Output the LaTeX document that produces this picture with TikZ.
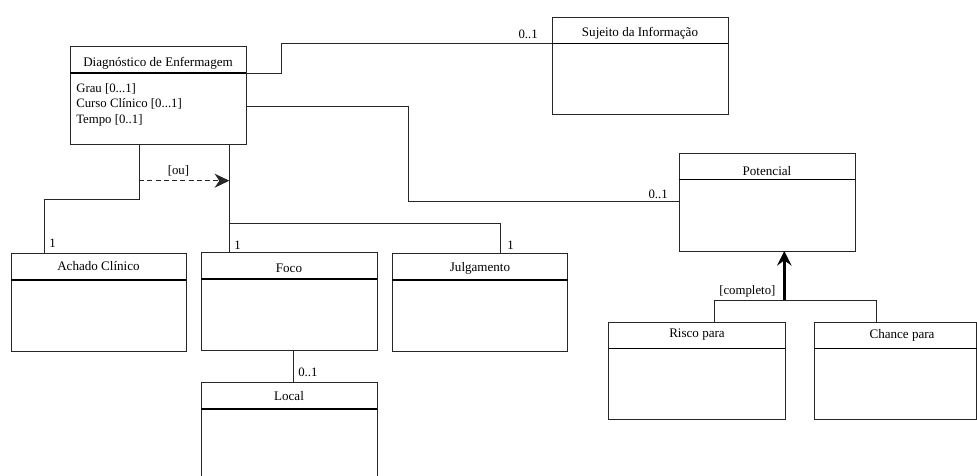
\documentclass[tikz,border=0pt]{standalone}
\usepackage{fontspec}
\setmainfont{Liberation Serif}
\usetikzlibrary{calc,arrows.meta}
\tikzset{
  cls/.style={draw=black!85, line width=0.75pt, inner sep=0pt, outer sep=0pt, anchor=north west},
  hdr/.style={draw=black, line width=0.9pt},
  conn/.style={draw=black!85, line width=0.75pt},
  lbl/.style={inner sep=0pt, font=\fontsize{9.6}{11}\selectfont},
  ttl/.style={inner sep=0pt, font=\fontsize{9.8}{11}\selectfont},
  dasharrow/.style={conn, dash pattern=on 3.8pt off 2.4pt, -{Stealth[length=11pt,width=10.5pt,inset=3.5pt]}},
  genarrow/.style={draw=black, line width=2.2pt, -{Stealth[length=11pt,width=11pt,inset=4pt]}}
}
% name, x1, y1, x2, y2, yheader, title x, title y, title
\newcommand\umlclassbox[9]{%
  \node[cls, minimum width={(#4-#2)*0.75pt}, minimum height={(#5-#3)*0.75pt}] (#1) at (#2,#3) {};
  \draw[hdr] (#2,#6) coordinate (#1-hl) -- (#4,#6) coordinate (#1-hr);
  \node[ttl] (#1-t) at (#7,#8) {#9};
}
\begin{document}
\begin{tikzpicture}[x=0.75pt,y=-0.75pt]
\useasboundingbox (0,0) rectangle (977,475);

\umlclassbox{diag}{70}{46}{246}{144}{73}{158}{63}{Diagnóstico de Enfermagem}
\umlclassbox{suj}{552}{17}{728}{114}{43.5}{640}{33.5}{Sujeito da Informação}
\umlclassbox{pot}{679}{153}{855}{251}{179.5}{767}{171}{Potencial}
\umlclassbox{ach}{11}{253.5}{186}{351}{280}{98.5}{266}{Achado Clínico}
\umlclassbox{foco}{201}{252.5}{377}{350}{279}{289}{268}{Foco}
\umlclassbox{julg}{392}{253.5}{567.5}{351}{280}{480}{268}{Julgamento}
\umlclassbox{local}{201}{382}{377}{490}{409}{289}{396.5}{Local}
\umlclassbox{risco}{608.5}{322}{785}{419.5}{348.5}{697}{335}{Risco para}
\umlclassbox{chance}{814}{322}{976.6}{419.5}{348.5}{902}{335}{Chance para}

% attributes
\node[lbl, anchor=base west] (a1) at (76,92) {Grau [0...1]};
\node[lbl, anchor=base west] (a2) at (76,107.5) {Curso Clínico [0...1]};
\node[lbl, anchor=base west] (a3) at (76,123) {Tempo [0..1]};

% Diag -- Sujeito
\draw[conn] (diag-hr) -- ++(35,0) |- (suj-hl);
\node[lbl, anchor=base east] (m1) at (538,38.5) {0..1};

% Diag -- Potencial
\draw[conn] ($(diag.north east)+(0,60)$) -- ++(162.5,0) |- ($(pot.north west)+(0,48)$);
\node[lbl, anchor=base east] (m2) at (668,198.5) {0..1};

% Diag -- Achado
\draw[conn] ($(diag.south west)+(69,0)$) -- ++(0,55) -| ($(ach.north west)+(33.3,0)$);
\node[lbl, anchor=base west] (m3) at (49,247) {1};

% Diag -- Foco / Julgamento
\draw[conn] ($(diag.south west)+(159.3,0)$) -- ($(foco.north west)+(28.3,0)$);
\draw[conn] ($(diag.south west)+(159.3,79.3)$) -| ($(julg.north west)+(108,0)$);
\node[lbl, anchor=base west] (m4) at (234,249) {1};
\node[lbl, anchor=base west] (m5) at (507,249) {1};

% [ou] dashed arrow
\draw[dasharrow] ($(diag.south west)+(69,36.7)$) -- ($(diag.south west)+(159.3,36.7)$);
\node[lbl, anchor=base west] (ou) at (167.5,174) {[ou]};

% Foco -- Local
\draw[conn] ($(foco.south west)+(92,0)$) -- ($(local.north west)+(92,0)$);
\node[lbl, anchor=base west] (m6) at (298,376.5) {0..1};

% generalization
\coordinate (gen) at (784.3,300);
\draw[conn] ($(risco.north west)+(105.5,0)$) |- ($(chance.north west)+(62,-22)$) -- ($(chance.north west)+(62,0)$);
\draw[genarrow] (gen) -- (gen |- pot.south);
\node[lbl, anchor=base west] (compl) at (719,294) {[completo]};
\end{tikzpicture}
\end{document}
